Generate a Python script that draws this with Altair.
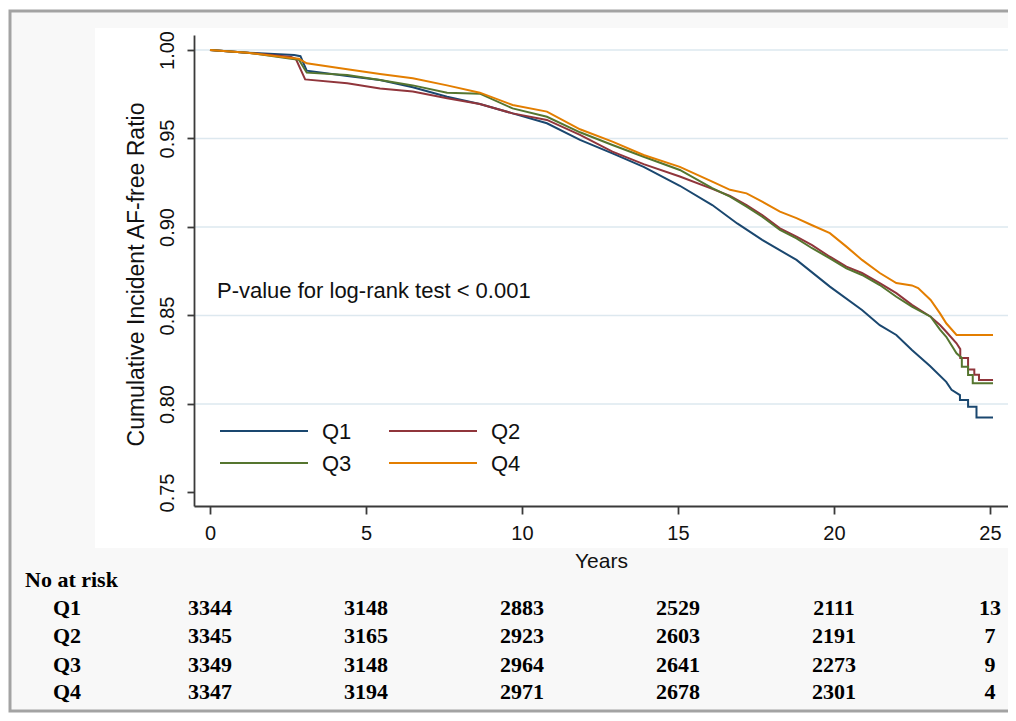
import altair as alt
import pandas as pd

SERIES = ["Q1", "Q2", "Q3", "Q4"]
COLORS = ["#1a476f", "#90353b", "#55752f", "#e37e00"]

Q1_T = [0, 1.2, 2.7, 2.9, 3.1, 4.4, 5.45, 6.5, 7.6, 8.65, 9.7, 10.8, 11.86, 12.9, 13.9, 15.06, 16.1, 16.9, 17.7, 18.8,
        19.87, 20.9, 21.47, 22.0, 22.5, 23.08, 23.6, 23.77, 24.04, 24.04, 24.3, 24.3, 24.57, 24.57, 25.1]
Q1_S = [1.000, 0.9985, 0.9972, 0.9965, 0.9883, 0.9853, 0.983, 0.9789, 0.9736, 0.9695, 0.9642, 0.9586, 0.9492, 0.9416,
        0.934, 0.9233, 0.9124, 0.902, 0.8927, 0.8814, 0.8663, 0.8531, 0.8445, 0.839, 0.8305, 0.8215, 0.8125, 0.808,
        0.805, 0.8023, 0.8023, 0.7985, 0.7985, 0.7923, 0.7923]

Q2_T = [0, 1.2, 2.6, 2.75, 3.05, 4.4, 5.45, 6.5, 7.6, 8.65, 9.7, 10.8, 11.86, 12.9, 13.9, 15.06, 16.1, 16.67, 17.2,
        17.7, 18.27, 18.8, 19.3, 19.87, 20.4, 20.9, 21.47, 22.0, 22.5, 23.1, 23.4, 23.6, 23.93, 24.05, 24.05, 24.3,
        24.3, 24.5, 24.5, 24.65, 24.65, 25.1]
Q2_S = [1.000, 0.9985, 0.996, 0.995, 0.9834, 0.9812, 0.9783, 0.9765, 0.9727, 0.9695, 0.9642, 0.9605, 0.952, 0.9426,
        0.9355, 0.9285, 0.9215, 0.9175, 0.9124, 0.9068, 0.8992, 0.8945, 0.8898, 0.8832, 0.8776, 0.874, 0.8683, 0.8626,
        0.856, 0.8493, 0.8446, 0.8408, 0.8343, 0.831, 0.826, 0.826, 0.8195, 0.8195, 0.8165, 0.8165, 0.8136, 0.8136]

Q3_T = [0, 1.2, 2.6, 2.85, 3.1, 4.4, 5.45, 6.5, 7.6, 8.65, 9.7, 10.8, 11.86, 12.9, 13.9, 15.06, 16.1, 16.67, 17.2,
        17.7, 18.27, 18.8, 19.3, 19.87, 20.4, 20.9, 21.47, 22.0, 22.5, 23.1, 23.4, 23.6, 23.93, 24.1, 24.1, 24.3,
        24.3, 24.45, 24.45, 25.1]
Q3_S = [1.000, 0.9985, 0.995, 0.9945, 0.9872, 0.9859, 0.983, 0.980, 0.9759, 0.9753, 0.967, 0.9623, 0.9535, 0.9463,
        0.9397, 0.9322, 0.922, 0.9171, 0.9115, 0.9058, 0.8983, 0.8936, 0.888, 0.8823, 0.8766, 0.8729, 0.8672, 0.8606,
        0.855, 0.8493, 0.842, 0.838, 0.8286, 0.826, 0.821, 0.821, 0.8164, 0.8164, 0.8117, 0.8117]

Q4_T = [0, 1.2, 2.6, 2.85, 3.1, 4.4, 5.45, 6.5, 7.6, 8.65, 9.7, 10.8, 11.86, 12.9, 13.9, 15.06, 16.1, 16.67, 17.2,
        17.7, 18.27, 18.8, 19.3, 19.87, 20.4, 20.9, 21.47, 22.0, 22.5, 22.7, 23.1, 23.4, 23.6, 23.93, 25.1]
Q4_S = [1.000, 0.9985, 0.9955, 0.995, 0.9925, 0.9891, 0.9864, 0.984, 0.980, 0.9759, 0.9689, 0.9652, 0.9552, 0.9482,
        0.9407, 0.934, 0.9256, 0.921, 0.919, 0.9143, 0.9087, 0.905, 0.901, 0.8965, 0.8889, 0.8814, 0.874, 0.8683,
        0.867, 0.8655, 0.8588, 0.8512, 0.8456, 0.839, 0.839]

RISK_YEARS = [0, 5, 10, 15, 20, 25]
RISK_Q1 = [3344, 3148, 2883, 2529, 2111, 13]
RISK_Q2 = [3345, 3165, 2923, 2603, 2191, 7]
RISK_Q3 = [3349, 3148, 2964, 2641, 2273, 9]
RISK_Q4 = [3347, 3194, 2971, 2678, 2301, 4]

X_TICKS = [0, 5, 10, 15, 20, 25]
Y_TICKS = [0.75, 0.80, 0.85, 0.90, 0.95, 1.00]
GRID = [0.80, 0.85, 0.90, 0.95, 1.00]

PVAL = "P-value for log-rank test < 0.001"

SANS = "Liberation Sans"
SERIF = "Liberation Serif"
W, H = 814, 471

# ---- data tables ----
curve_frames = []
for name, tt, ss in zip(SERIES, [Q1_T, Q2_T, Q3_T, Q4_T], [Q1_S, Q2_S, Q3_S, Q4_S]):
    curve_frames.append(pd.DataFrame({"t": tt, "s": ss, "series": name, "i": list(range(len(tt)))}))
curves = pd.concat(curve_frames, ignore_index=True)

xs = alt.Scale(domain=[-0.513, 25.58], nice=False, zero=False)
ys = alt.Scale(domain=[0.74237, 1.00847], nice=False, zero=False)

xaxis = alt.Axis(values=X_TICKS, format="d", title="Years", grid=False, zindex=2,
                 labelFont=SANS, labelFontSize=20, labelColor="#111111", labelBaseline="alphabetic",
                 labelPadding=25, tickSize=8, tickWidth=1.8, tickColor="#3a3a3a",
                 domainColor="#3a3a3a", domainWidth=1.8, labelFlush=False, labelOverlap=False,
                 titleFont=SANS, titleFontSize=21, titleFontWeight="normal", titleColor="#111111",
                 titleBaseline="alphabetic", titleY=61)
yaxis = alt.Axis(values=Y_TICKS, format=".2f", title="Cumulative Incident AF-free Ratio", grid=False, zindex=2,
                 labelFont=SANS, labelFontSize=20, labelColor="#111111", labelAngle=270,
                 labelAlign="center", labelBaseline="alphabetic", labelPadding=14,
                 tickSize=7, tickWidth=1.8, tickColor="#3a3a3a", domainColor="#3a3a3a", domainWidth=1.8,
                 labelFlush=False, labelOverlap=False,
                 titleFont=SANS, titleFontSize=23, titleFontWeight="normal", titleColor="#111111",
                 titleAngle=270, titleAlign="center", titleBaseline="alphabetic", titleX=-51, titleY=239)

X = alt.X("t:Q", scale=xs, axis=xaxis)
Y = alt.Y("s:Q", scale=ys, axis=yaxis)

one = pd.DataFrame({"a": [0]})

# frame and background regions (decoration)
frame = alt.Chart(one).mark_rect(fill="#f8f8f8", stroke="#a3a3a3", strokeWidth=3).encode(
    x=alt.value(-184), x2=alt.value(840), y=alt.value(-24), y2=alt.value(676))
graph_bg = alt.Chart(one).mark_rect(fill="#ffffff").encode(
    x=alt.value(-99), x2=alt.value(W), y=alt.value(-7), y2=alt.value(513))

grid = alt.Chart(pd.DataFrame({"s": GRID})).mark_rule(color="#dde8ef", strokeWidth=1.3).encode(
    y=Y, x=alt.value(0), x2=alt.value(W))

lines = alt.Chart(curves).mark_line(strokeWidth=2).encode(
    x=X, y=Y,
    color=alt.Color("series:N", scale=alt.Scale(domain=SERIES, range=COLORS), legend=None),
    order=alt.Order("i:Q"))

pval = alt.Chart(one).mark_text(text=PVAL, align="left", baseline="alphabetic", font=SANS,
                                fontSize=22, color="#111111").encode(x=alt.value(23), y=alt.value(263))

layers = [frame, graph_bg, grid, lines, pval]

# manual legend: 2 columns x 2 rows
LEG_COL_X = [26, 195]
LEG_ROW_Y = [396, 428]
for k, (name, col) in enumerate(zip(SERIES, COLORS)):
    lx = LEG_COL_X[k % 2]
    ly = LEG_ROW_Y[k // 2]
    layers.append(alt.Chart(one).mark_rule(color=col, strokeWidth=2).encode(
        x=alt.value(lx), x2=alt.value(lx + 88), y=alt.value(ly)))
    layers.append(alt.Chart(one).mark_text(text=name, align="left", baseline="middle", font=SANS,
                                           fontSize=22, color="#111111").encode(
        x=alt.value(lx + 102), y=alt.value(ly + 1)))

# number-at-risk table
layers.append(alt.Chart(one).mark_text(text="No at risk", align="left", baseline="alphabetic", font=SERIF,
                                       fontWeight="bold", fontSize=22, color="#000000").encode(
    x=alt.value(-169), y=alt.value(552)))
ROW_Y = [580, 608, 637, 664]
for name, vals, ry in zip(SERIES, [RISK_Q1, RISK_Q2, RISK_Q3, RISK_Q4], ROW_Y):
    layers.append(alt.Chart(one).mark_text(text=name, align="left", baseline="alphabetic", font=SERIF,
                                           fontWeight="bold", fontSize=22, color="#000000").encode(
        x=alt.value(-141), y=alt.value(ry)))
    df = pd.DataFrame({"t": RISK_YEARS, "n": vals})
    layers.append(alt.Chart(df).mark_text(align="center", baseline="alphabetic", font=SERIF,
                                          fontWeight="bold", fontSize=22, color="#000000").encode(
        x=X, y=alt.value(ry), text="n:Q"))

chart = alt.layer(*layers).properties(
    width=W, height=H,
    padding={"left": 186, "top": 27, "right": 0, "bottom": 207},
    autosize=alt.AutoSizeParams(type="none"),
    background="white",
).configure_view(stroke=None)

chart.save("out.html", embed_options={"renderer": "svg", "actions": False})
